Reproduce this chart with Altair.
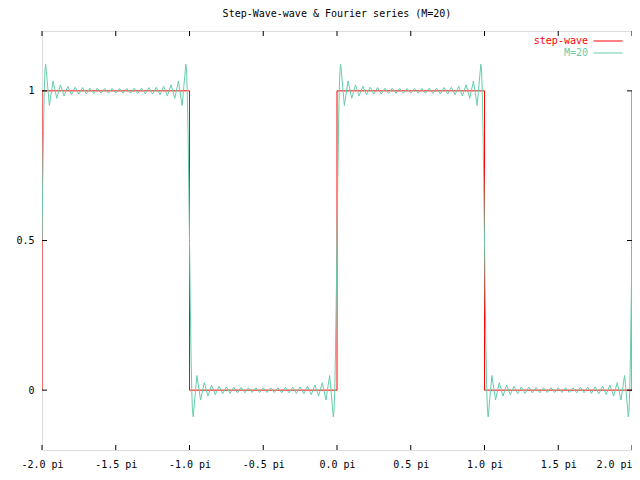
import altair as alt
import pandas as pd

# ---- data (x in units of pi) ----
step_x = [-2, -2, -1, -1, 0, 0, 1, 1, 2, 2]
step_y = [0, 1, 1, 0, 0, 1, 1, 0, 0, 1]

# offsets within one half period (units of pi) where the Fourier curve was read
half_offsets = [0.000, 0.005, 0.010, 0.015, 0.020,
                0.025, 0.050, 0.075, 0.100, 0.125, 0.150, 0.175, 0.200, 0.225, 0.250,
                0.275, 0.300, 0.325, 0.350, 0.375, 0.400, 0.425, 0.450, 0.475, 0.500,
                0.525, 0.550, 0.575, 0.600, 0.625, 0.650, 0.675, 0.700, 0.725, 0.750,
                0.775, 0.800, 0.825, 0.850, 0.875, 0.900, 0.925, 0.950, 0.975,
                0.980, 0.985, 0.990, 0.995]
top_values = [0.500, 0.698, 0.867, 0.994, 1.067,
              1.089, 0.951, 1.033, 0.975, 1.020, 0.983, 1.015, 0.987, 1.012, 0.989,
              1.011, 0.990, 1.009, 0.991, 1.009, 0.992, 1.008, 0.992, 1.008, 0.992,
              1.008, 0.992, 1.008, 0.992, 1.009, 0.991, 1.009, 0.990, 1.011, 0.989,
              1.012, 0.987, 1.015, 0.983, 1.020, 0.975, 1.033, 0.951, 1.089,
              1.067, 0.994, 0.867, 0.698]
bottom_values = [0.500, 0.302, 0.133, 0.006, -0.067,
                 -0.089, 0.049, -0.033, 0.025, -0.020, 0.017, -0.015, 0.013, -0.012, 0.011,
                 -0.011, 0.010, -0.009, 0.009, -0.009, 0.008, -0.008, 0.008, -0.008, 0.008,
                 -0.008, 0.008, -0.008, 0.008, -0.009, 0.009, -0.009, 0.010, -0.011, 0.011,
                 -0.012, 0.013, -0.015, 0.017, -0.020, 0.025, -0.033, 0.049, -0.089,
                 -0.067, 0.006, 0.133, 0.302]
half_starts = [-2, -1, 0, 1]
half_levels = ["top", "bottom", "top", "bottom"]
end_x = [2.0]
end_y = [0.5]

x_ticks = [-2, -1.5, -1, -0.5, 0, 0.5, 1, 1.5, 2]
y_ticks = [0, 0.5, 1]

# ---- tables ----
step_df = pd.DataFrame({"x": step_x, "y": step_y, "i": list(range(len(step_x))),
                        "name": "step-wave"})
fx, fy = [], []
for s, lvl in zip(half_starts, half_levels):
    vals = top_values if lvl == "top" else bottom_values
    for o, v in zip(half_offsets, vals):
        fx.append(s + o)
        fy.append(v)
fx += end_x
fy += end_y
four_df = pd.DataFrame({"x": fx, "y": fy, "i": list(range(len(fx))), "name": "M=20"})
xt_df = pd.DataFrame({"t": x_ticks})
yt_df = pd.DataFrame({"t": y_ticks})

W, H = 590, 419
FONT = "DejaVu Sans Mono"
RED = "#ff0000"
TEAL = "#66cdaa"

xscale = alt.Scale(domain=[-2, 2], nice=False, zero=False)
yscale = alt.Scale(domain=[-0.2, 1.2], nice=False, zero=False)

xaxis = alt.Axis(values=x_ticks, title=None, grid=False, domain=False, ticks=False,
                 tickSize=0, labelPadding=9, labelFont=FONT, labelFontSize=10,
                 labelColor="black", labelFlush=False,
                 labelAlign={"condition": {"test": "datum.value > 1.9", "value": "right"},
                             "value": "center"},
                 labelExpr="(datum.value < 0 ? '-' : '') + format(abs(datum.value), '.1f') + ' pi'")
yaxis = alt.Axis(values=y_ticks, title=None, grid=False, domain=False, ticks=False,
                 tickSize=0, labelPadding=8, labelFont=FONT, labelFontSize=10,
                 labelColor="black", format="~g")


def leg(color, ly):
    return alt.Legend(orient="none", legendX=551, legendY=ly, title=None,
                      symbolType="stroke", symbolSize=841, symbolStrokeWidth=1,
                      labelAlign="right", labelOffset={"expr": "-35"}, labelColor=color,
                      labelFont=FONT, labelFontSize=10, padding=0)


red = alt.Chart(step_df).mark_line(strokeWidth=1, clip=True).encode(
    x=alt.X("x:Q", scale=xscale, axis=xaxis),
    y=alt.Y("y:Q", scale=yscale, axis=yaxis),
    order=alt.Order("i:Q"),
    color=alt.Color("name:N", scale=alt.Scale(domain=["step-wave"], range=[RED]),
                    legend=leg(RED, -5)),
)

teal = alt.Chart(four_df).mark_line(strokeWidth=1, clip=True).encode(
    x=alt.X("x:Q", scale=xscale),
    y=alt.Y("y:Q", scale=yscale),
    order=alt.Order("i:Q"),
    color=alt.Color("name:N", scale=alt.Scale(domain=["M=20"], range=[TEAL]),
                    legend=leg(TEAL, 7)),
)

tb = alt.Chart(xt_df).mark_rule(color="black", strokeWidth=1).encode(
    x=alt.X("t:Q", scale=xscale), y=alt.value(H), y2=alt.value(H - 5))
tt = alt.Chart(xt_df).mark_rule(color="black", strokeWidth=1).encode(
    x=alt.X("t:Q", scale=xscale), y=alt.value(0), y2=alt.value(5))
tl = alt.Chart(yt_df).mark_rule(color="black", strokeWidth=1).encode(
    y=alt.Y("t:Q", scale=yscale), x=alt.value(0), x2=alt.value(5))
tr = alt.Chart(yt_df).mark_rule(color="black", strokeWidth=1).encode(
    y=alt.Y("t:Q", scale=yscale), x=alt.value(W - 5), x2=alt.value(W))

chart = alt.layer(red, teal, tb, tt, tl, tr).resolve_scale(color="independent").properties(
    width=W, height=H,
    title=alt.TitleParams("Step-Wave-wave & Fourier series (M=20)", font=FONT, fontSize=10,
                          fontWeight="normal", color="black", anchor="middle", offset=9, dy=2),
    padding={"left": 34, "top": 23, "right": 0, "bottom": 30},
    autosize=alt.AutoSizeParams(type="none"),
).configure_view(stroke="black", strokeWidth=1).configure(background="white")

chart.save("out.html", embed_options={"renderer": "svg", "actions": False})
